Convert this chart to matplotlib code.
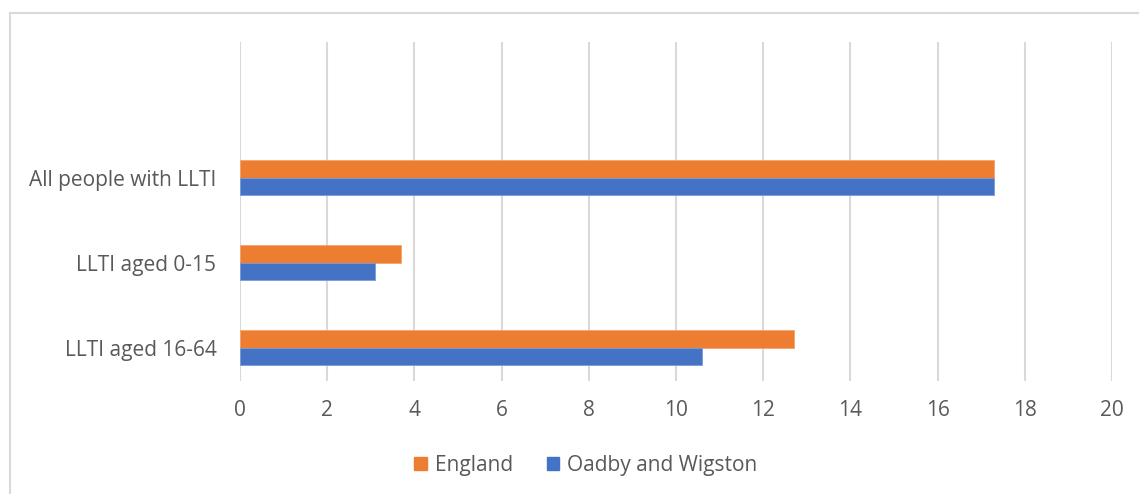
import matplotlib
matplotlib.use("Agg")
import matplotlib.pyplot as plt
from matplotlib.lines import Line2D

categories = ["LLTI aged 16-64", "LLTI aged 0-15", "All people with LLTI"]
england = [12.7, 3.7, 17.3]
oadby = [10.6, 3.1, 17.3]
series_names = ["England", "Oadby and Wigston"]
xticks = [0, 2, 4, 6, 8, 10, 12, 14, 16, 18, 20]

orange = "#ED7D31"
blue = "#4472C4"
grid = "#D9D9D9"
text = "#595959"

plt.rcParams['font.family'] = ['Open Sans', 'DejaVu Sans']

fig = plt.figure(figsize=(11.39, 4.94), dpi=100)
ax = fig.add_axes([240/1139, 1 - 381/494, 872/1139, 339/494])

h = 0.206
ypos = list(range(len(categories)))
ax.barh([y + h/2 for y in ypos], england, height=h, color=orange, label=series_names[0],
        edgecolor="#F4A46E", linewidth=0.6)
ax.barh([y - h/2 for y in ypos], oadby, height=h, color=blue, label=series_names[1],
        edgecolor="#7A9BD6", linewidth=0.6)

ax.set_xlim(0, 20)
ax.set_ylim(-0.392, 3.596)
ax.set_xticks(xticks)
ax.set_xticklabels([str(t) for t in xticks])
ax.set_yticks(ypos)
ax.set_yticklabels(categories)
ax.tick_params(axis='both', length=0, colors=text, labelsize=15)
ax.tick_params(axis='x', pad=14)
ax.tick_params(axis='y', pad=17)
for s in ax.spines.values():
    s.set_visible(False)
ax.xaxis.grid(True, color=grid, linewidth=1.5)
ax.set_axisbelow(True)

handles = [plt.Rectangle((0, 0), 1, 1, color=orange), plt.Rectangle((0, 0), 1, 1, color=blue)]
leg = fig.legend(handles, series_names, loc='center', bbox_to_anchor=(586/1139, 1 - 465/494),
                 ncol=2, frameon=False, fontsize=15, handlelength=0.6, handleheight=0.6,
                 handletextpad=0.4, columnspacing=1.6)
for t in leg.get_texts():
    t.set_color(text)

# chart border (left and top visible)
fig.add_artist(Line2D([10/1139, 10/1139], [0, 1 - 13/494], transform=fig.transFigure, color=grid, linewidth=1.5))
fig.add_artist(Line2D([10/1139, 1], [1 - 13/494, 1 - 13/494], transform=fig.transFigure, color=grid, linewidth=1.5))

fig.savefig("out.png", dpi=100)
